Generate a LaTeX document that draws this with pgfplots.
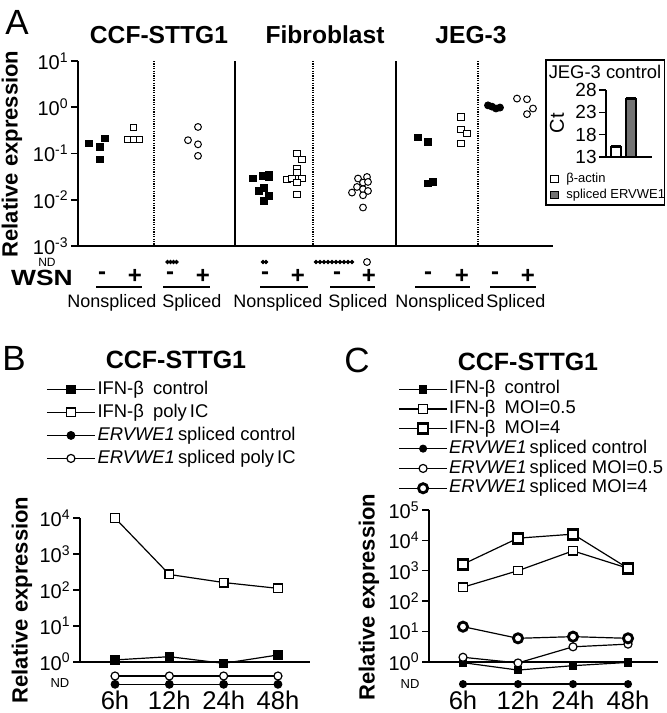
\documentclass[border=0pt]{standalone}
\usepackage{fontspec}
\setmainfont{Liberation Sans}
\usepackage{pgfplots}
\pgfplotsset{compat=1.18}
\newcommand{\fs}[1]{\fontsize{#1}{#1}\selectfont}
\definecolor{bargray}{gray}{0.45}
\pgfplotsset{
  common/.style={
    scale only axis, anchor=south west,
    axis x line=bottom, axis y line=left,
    axis line style={-, line width=0.8pt},
    tick align=outside, major tick length=3.5pt,
    tick style={line width=0.8pt, black},
    yminorticks=false, xtick=\empty,
    clip=false,
  },
  leglines/.style={
    legend image code/.code={\draw[mark repeat=2,mark phase=2,##1] plot coordinates {(0pt,0pt)(12pt,0pt)(24pt,0pt)};}
  }
}
\begin{document}
\begin{tikzpicture}
\path[use as bounding box] (0pt,0pt) rectangle (333pt,-356.5pt);

% ---------------- Panel A ----------------
\begin{axis}[common, at={(39pt,-123pt)}, width=237.5pt, height=92.5pt,
  xmin=78, xmax=553, ymode=log, ymin=1e-3, ymax=10,
  ytick={1e-3,1e-2,1e-1,1,10},
  yticklabels={10\textsuperscript{-3},10\textsuperscript{-2},10\textsuperscript{-1},10\textsuperscript{0},10\textsuperscript{1}},
  yticklabel style={font=\fs{10}, inner sep=1pt},
  every axis plot/.append style={only marks, black, line width=0.5pt}]
\draw[dash pattern=on 0.6pt off 0.6pt, line width=0.6pt] (axis cs:154,10) -- (axis cs:154,1e-3);
\draw[dash pattern=on 0.6pt off 0.6pt, line width=0.6pt] (axis cs:313,10) -- (axis cs:313,1e-3);
\draw[dash pattern=on 0.6pt off 0.6pt, line width=0.6pt] (axis cs:478,10) -- (axis cs:478,1e-3);
\draw[line width=0.6pt] (axis cs:235,10) -- (axis cs:235,1e-3);
\draw[line width=0.6pt] (axis cs:396,10) -- (axis cs:396,1e-3);
% CCF-STTG1
\addplot[mark=square*, mark size=1.6pt] coordinates {(89,0.166)(100,0.138)(105,0.214)(100,0.075)};
\addplot[mark=square*, mark options={fill=white}, mark size=1.5pt] coordinates {(133.5,0.363)(127.5,0.196)(133.5,0.196)(139.5,0.196)};
\addplot[mark=*, mark size=0.8pt] coordinates {(167.5,4.5e-4)(170.5,4.5e-4)(173.5,4.5e-4)(176.5,4.5e-4)};
\addplot[mark=*, mark options={fill=white}, mark size=1.7pt] coordinates {(198,0.375)(188,0.194)(198,0.158)(198,0.089)};
% Fibroblast
\addplot[mark=square*, mark size=1.6pt] coordinates {(253,0.0288)(263,0.0326)(269,0.035)(269,0.030)(259,0.0155)(264,0.018)(269,0.012)(264,0.0094)};
\addplot[mark=*, mark size=0.8pt] coordinates {(263,4.5e-4)(266,4.5e-4)};
\addplot[mark=square*, mark options={fill=white}, mark size=1.6pt] coordinates {(297,0.1)(302,0.075)(297,0.047)(297,0.039)(287,0.0278)(292,0.0288)(302,0.0288)(297,0.0235)(297,0.013)};
\addplot[mark=*, mark size=0.8pt] coordinates {(316,4.5e-4)(320,4.5e-4)(324,4.5e-4)(328,4.5e-4)(332,4.5e-4)(336,4.5e-4)(340,4.5e-4)(344,4.5e-4)(348,4.5e-4)(352,4.5e-4)};
\addplot[mark=*, mark options={fill=white}, mark size=1.7pt] coordinates {(367,4.5e-4)(358,0.0288)(367,0.0311)(363,0.0235)(368,0.0243)(357,0.0189)(352,0.0143)(363,0.0169)(368,0.0155)(363,0.0125)(363,0.0068)};
% JEG-3
\addplot[mark=square*, mark size=1.6pt] coordinates {(418,0.221)(428,0.178)(428,0.0224)(433,0.0243)};
\addplot[mark=square*, mark options={fill=white}, mark size=1.6pt] coordinates {(461,0.617)(461,0.334)(467,0.27)(461,0.166)};
\addplot[mark=*, mark size=1.7pt] coordinates {(488,1.10)(492,1.03)(496,0.94)(500,0.985)};
\addplot[mark=*, mark options={fill=white}, mark size=1.7pt] coordinates {(517,1.54)(527,1.49)(533,0.94)(527,0.71)};
\end{axis}

% ---------------- Inset ----------------
\begin{axis}[common, clip=true, at={(303pt,-78.5pt)}, width=23pt, height=33.5pt,
  xmin=606, xmax=652, ymin=13, ymax=28,
  ytick={13,18,23,28}, yticklabels={13,18,23,28},
  yticklabel style={font=\fs{9.5}, inner sep=1pt},
  legend style={at={(-1.22,-0.20)}, anchor=north west, draw=none, fill=none,
    inner sep=0pt, font=\fs{6.5}, nodes={inner sep=0.8pt, text height=5pt, text depth=1.5pt}},
  legend cell align=left]
\addplot[ybar, bar width=5pt, bar shift=0pt, fill=white, draw=black, line width=0.8pt,
  legend image code/.code={\draw[fill=white, draw=black, line width=0.6pt] (0pt,-1.7pt) rectangle (4pt,1.7pt); \path (6.5pt,0pt);}]
  coordinates {(616,15.25)};
\addlegendentry{β-actin}
\addplot[ybar, bar width=5pt, bar shift=0pt, fill=bargray, draw=black, line width=0.8pt,
  legend image code/.code={\draw[fill=bargray, draw=black, line width=0.6pt] (0pt,-1.7pt) rectangle (4pt,1.7pt); \path (6.5pt,0pt);}]
  coordinates {(631,25.99)};
\addlegendentry{spliced ERVWE1}
\addplot[only marks, mark=-, mark size=2.6pt, line width=1.3pt, forget plot] coordinates {(616,15.3)(631,26.05)};
\end{axis}

% ---------------- Panel B ----------------
\begin{axis}[common, leglines, at={(40pt,-330.85pt)}, width=115pt, height=71.85pt,
  xmin=-0.645, xmax=3.59, ymode=log, ymin=1, ymax=1e4,
  ytick={1,10,100,1000,10000},
  yticklabels={10\textsuperscript{0},10\textsuperscript{1},10\textsuperscript{2},10\textsuperscript{3},10\textsuperscript{4}},
  yticklabel style={font=\fs{10}, inner sep=1pt},
  legend style={at={(-0.148,1.974)}, anchor=north west, draw=none, fill=none, inner sep=0pt,
    font=\fs{9.2}, row sep=0.5pt, nodes={inner sep=1pt, text height=7pt, text depth=2pt}},
  legend cell align=left,
  every axis plot/.append style={black, line width=0.6pt}]
\addplot[mark=square*, mark size=2pt] coordinates {(0,1.12)(1,1.38)(2,0.90)(3,1.54)};
\addlegendentry{IFN-β\enspace control}
\addplot[mark=square*, mark options={fill=white}, mark size=2.2pt] coordinates {(0,1.0e4)(1,268)(2,160)(3,110)};
\addlegendentry{IFN-β\enspace poly\,IC}
\addplot[mark=*, mark size=1.9pt] coordinates {(0,0.235)(1,0.235)(2,0.235)(3,0.235)};
\addlegendentry{\textit{ERVWE1}\,spliced control}
\addplot[mark=*, mark options={fill=white}, mark size=2pt] coordinates {(0,0.40)(1,0.40)(2,0.40)(3,0.40)};
\addlegendentry{\textit{ERVWE1}\,spliced poly\,IC}
\end{axis}

% ---------------- Panel C ----------------
\begin{axis}[common, leglines, at={(214.5pt,-330.85pt)}, width=114.5pt, height=75.85pt,
  xmin=-0.618, xmax=3.545, ymode=log, ymin=1, ymax=1e5,
  ytick={1,10,100,1000,10000,100000},
  yticklabels={10\textsuperscript{0},10\textsuperscript{1},10\textsuperscript{2},10\textsuperscript{3},10\textsuperscript{4},10\textsuperscript{5}},
  yticklabel style={font=\fs{10}, inner sep=1pt},
  legend style={at={(-0.135,1.864)}, anchor=north west, draw=none, fill=none, inner sep=0pt,
    font=\fs{9.2}, row sep=0pt, nodes={inner sep=0.75pt, text height=6.5pt, text depth=1.9pt}},
  legend cell align=left,
  every axis plot/.append style={black, line width=0.6pt}]
\addplot[mark=square*, mark size=1.9pt] coordinates {(0,0.93)(1,0.53)(2,0.74)(3,0.95)};
\addlegendentry{IFN-β\enspace control}
\addplot[mark=square*, mark options={fill=white}, mark size=2.1pt] coordinates {(0,285)(1,1000)(2,4500)(3,1200)};
\addlegendentry{IFN-β\enspace MOI=0.5}
\addplot[mark=square*, mark options={fill=white, line width=1.4pt}, mark size=2.5pt] coordinates {(0,1630)(1,1.18e4)(2,1.6e4)(3,1200)};
\addlegendentry{IFN-β\enspace MOI=4}
\addplot[mark=*, mark size=1.7pt] coordinates {(0,0.183)(1,0.183)(2,0.183)(3,0.183)};
\addlegendentry{\textit{ERVWE1}\,spliced control}
\addplot[mark=*, mark options={fill=white}, mark size=2pt] coordinates {(0,1.4)(1,0.91)(2,3.1)(3,3.8)};
\addlegendentry{\textit{ERVWE1}\,spliced MOI=0.5}
\addplot[mark=*, mark options={fill=white, line width=1.4pt}, mark size=2.3pt] coordinates {(0,14.3)(1,5.9)(2,6.7)(3,5.9)};
\addlegendentry{\textit{ERVWE1}\,spliced MOI=4}
\end{axis}

% ---------------- Text and decorations (pixel coordinates) ----------------
\begin{scope}[x=0.5pt,y=-0.5pt]
% panel letters
\node[font=\fs{17.5}] at (17,22) {A};
\node[font=\fs{17.5}] at (14,358) {B};
\node[font=\fs{17.5}] at (357,360) {C};
% titles
\node[font=\bfseries\fs{12.3}] at (159,35) {CCF-STTG1};
\node[font=\bfseries\fs{12.3}] at (325,35) {Fibroblast};
\node[font=\bfseries\fs{12.3}] at (471,35) {JEG-3};
\node[font=\bfseries\fs{12.5}] at (176,360) {CCF-STTG1};
\node[font=\bfseries\fs{12.5}] at (528,362) {CCF-STTG1};
% y labels
\node[rotate=90, font=\bfseries\fs{11}] at (12,154) {Relative expression};
\node[rotate=90, font=\bfseries\fs{11}] at (22,600) {Relative expression};
\node[rotate=90, font=\bfseries\fs{11}] at (369,597) {Relative expression};
% ND labels
\node[font=\fs{6}, inner sep=0pt] at (47,262.5) {ND};
\node[font=\fs{6.5}, inner sep=0pt] at (60,683) {ND};
\node[font=\fs{6.5}, inner sep=0pt] at (410,684) {ND};
% WSN row
\node[font=\bfseries\fs{11}, xscale=1.2] at (42,278) {WSN};
\foreach \xm/\xp in {102/135, 170/203, 265/298, 337/369, 428/462, 495/528} {
  \node[font=\bfseries\fs{12}] at (\xm,276) {-};
  \node[font=\bfseries\fs{12}] at (\xp,276) {+};
}
\foreach \a/\b in {96/142, 163/210, 260/308, 330/375, 415/470, 490/536} {
  \draw[line width=0.8pt] (\a,287) -- (\b,287);
}
\foreach \xc/\t in {112/Nonspliced, 192/Spliced, 278/Nonspliced, 358/Spliced, 440/Nonspliced, 516/Spliced} {
  \node[font=\fs{9}] at (\xc,303) {\t};
}
% time labels
\foreach \xc/\t in {115/6h, 169.3/12h, 223.7/24h, 278/48h, 463/6h, 518/12h, 573/24h, 628/48h} {
  \node[font=\fs{12.8}, anchor=base, inner sep=0pt] at (\xc,709) {\t};
}
% inset frame and texts
\draw[line width=0.8pt] (546,60) rectangle (664.5,205);
\node[font=\fs{9.2}] at (605,72) {JEG-3 control};
\node[rotate=90, font=\fs{10}] at (557,123) {Ct};
\end{scope}
\end{tikzpicture}
\end{document}
